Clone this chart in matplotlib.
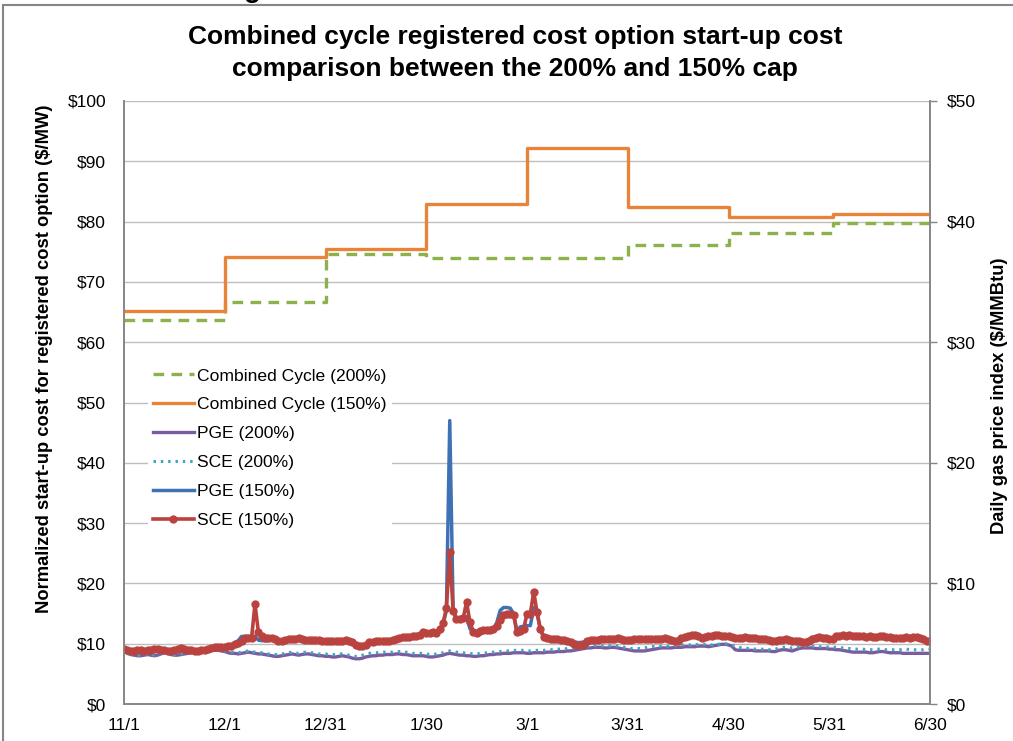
import matplotlib
matplotlib.use("Agg")
import matplotlib.pyplot as plt
import numpy as np
from matplotlib.patches import Rectangle

plt.rcParams['font.family'] = ['Liberation Sans', 'DejaVu Sans']

# x axis: day index from 11/1 to 6/30, labelled every 30 days
tick_days = [0, 30, 60, 90, 120, 150, 180, 210, 240]
tick_labels = ['11/1', '12/1', '12/31', '1/30', '3/1', '3/31', '4/30', '5/31', '6/30']

# combined cycle start-up cost, constant within each period ($/MW)
cc_start_days = [0, 30, 60, 90, 120, 150, 180, 211, 240]
cc_200 = [63.6, 66.7, 74.6, 74.0, 74.0, 76.1, 78.1, 79.8, 79.8]
cc_150 = [65.2, 74.2, 75.4, 83.0, 92.2, 82.5, 80.7, 81.3, 81.3]

# daily values, one per day from 11/1 to 6/30
pge_200 = [
    8.9, 8.4, 8.2, 8.1, 8.0, 8.0, 8.1, 8.2, 8.1, 8.0,
    8.1, 8.3, 8.5, 8.4, 8.2, 8.1, 8.1, 8.2, 8.3, 8.4,
    8.5, 8.6, 8.7, 8.8, 8.9, 9.0, 9.0, 8.9, 8.9, 8.8,
    8.7, 8.5, 8.4, 8.4, 8.3, 8.4, 8.5, 8.6, 8.5, 8.4,
    8.3, 8.3, 8.2, 8.1, 8.0, 7.9, 7.9, 8.0, 8.1, 8.2,
    8.3, 8.2, 8.1, 8.2, 8.3, 8.3, 8.2, 8.1, 8.0, 8.0,
    7.9, 7.9, 7.8, 7.8, 7.9, 8.0, 7.9, 7.8, 7.6, 7.5,
    7.5, 7.6, 7.8, 7.9, 8.0, 8.0, 8.1, 8.1, 8.2, 8.2,
    8.2, 8.3, 8.3, 8.2, 8.2, 8.1, 8.0, 8.0, 8.0, 8.0,
    7.9, 7.8, 7.8, 7.9, 8.0, 8.1, 8.3, 8.4, 8.3, 8.2,
    8.1, 8.1, 8.0, 8.0, 7.9, 7.9, 8.0, 8.0, 8.1, 8.2,
    8.2, 8.3, 8.3, 8.4, 8.4, 8.4, 8.5, 8.5, 8.5, 8.5,
    8.4, 8.4, 8.5, 8.5, 8.5, 8.5, 8.6, 8.6, 8.6, 8.7,
    8.7, 8.7, 8.8, 8.8, 8.9, 9.0, 9.1, 9.2, 9.3, 9.3,
    9.4, 9.4, 9.4, 9.3, 9.3, 9.4, 9.4, 9.3, 9.2, 9.1,
    9.0, 8.9, 8.8, 8.8, 8.8, 8.8, 8.9, 9.0, 9.1, 9.2,
    9.3, 9.3, 9.3, 9.3, 9.4, 9.4, 9.4, 9.5, 9.5, 9.5,
    9.5, 9.6, 9.6, 9.6, 9.5, 9.6, 9.7, 9.8, 9.9, 9.9,
    9.8, 9.6, 9.0, 8.9, 8.9, 8.9, 8.9, 8.9, 8.8, 8.8,
    8.8, 8.8, 8.8, 8.7, 8.7, 8.9, 9.0, 9.0, 8.9, 8.8,
    9.0, 9.2, 9.3, 9.3, 9.3, 9.3, 9.2, 9.2, 9.2, 9.2,
    9.1, 9.1, 9.0, 9.0, 8.9, 8.8, 8.7, 8.6, 8.6, 8.6,
    8.6, 8.6, 8.5, 8.5, 8.6, 8.7, 8.7, 8.6, 8.5, 8.5,
    8.5, 8.5, 8.4, 8.4, 8.4, 8.4, 8.4, 8.4, 8.4, 8.4, 8.4,
]

sce_200 = [
    8.9, 8.5, 8.3, 8.2, 8.1, 8.1, 8.2, 8.3, 8.2, 8.1,
    8.2, 8.4, 8.6, 8.5, 8.3, 8.2, 8.2, 8.3, 8.4, 8.5,
    8.6, 8.7, 8.8, 8.9, 9.0, 9.1, 9.1, 9.0, 9.0, 8.9,
    8.8, 8.7, 8.6, 8.6, 8.5, 8.6, 8.7, 8.8, 8.7, 8.6,
    8.5, 8.5, 8.4, 8.3, 8.2, 8.2, 8.2, 8.3, 8.4, 8.5,
    8.6, 8.5, 8.4, 8.5, 8.6, 8.6, 8.5, 8.4, 8.3, 8.3,
    8.3, 8.2, 8.2, 8.2, 8.3, 8.3, 8.2, 8.1, 8.0, 7.9,
    7.9, 8.1, 8.3, 8.4, 8.5, 8.5, 8.5, 8.6, 8.6, 8.6,
    8.6, 8.7, 8.7, 8.6, 8.6, 8.5, 8.4, 8.4, 8.4, 8.4,
    8.3, 8.2, 8.2, 8.3, 8.4, 8.5, 8.7, 8.8, 8.7, 8.6,
    8.5, 8.5, 8.4, 8.4, 8.3, 8.3, 8.4, 8.4, 8.5, 8.6,
    8.6, 8.7, 8.7, 8.8, 8.8, 8.8, 8.9, 8.9, 8.9, 8.9,
    8.8, 8.8, 8.9, 8.9, 8.9, 8.9, 9.0, 9.0, 9.0, 9.1,
    9.1, 9.1, 9.2, 9.2, 9.3, 9.4, 9.5, 9.6, 9.6, 9.6,
    9.7, 9.7, 9.7, 9.6, 9.6, 9.7, 9.7, 9.6, 9.5, 9.4,
    9.3, 9.2, 9.2, 9.2, 9.2, 9.3, 9.4, 9.5, 9.6, 9.6,
    9.6, 9.6, 9.6, 9.6, 9.7, 9.8, 9.8, 9.8, 9.8, 9.8,
    9.8, 9.9, 9.9, 9.9, 9.8, 9.8, 9.9, 9.9, 10.0, 10.0,
    9.9, 9.8, 9.6, 9.4, 9.3, 9.3, 9.2, 9.2, 9.1, 9.1,
    9.1, 9.0, 9.0, 9.0, 9.1, 9.3, 9.4, 9.4, 9.3, 9.3,
    9.4, 9.5, 9.6, 9.6, 9.6, 9.6, 9.5, 9.5, 9.5, 9.5,
    9.4, 9.4, 9.4, 9.4, 9.3, 9.2, 9.2, 9.1, 9.1, 9.1,
    9.1, 9.0, 9.0, 9.0, 9.1, 9.1, 9.1, 9.0, 9.0, 9.0,
    9.0, 9.0, 9.1, 9.1, 9.0, 9.0, 9.0, 9.0, 9.0, 9.1, 9.1,
]

pge_150 = [
    9.0, 8.7, 8.6, 8.6, 8.7, 8.7, 8.6, 8.7, 8.8, 8.9,
    8.9, 8.8, 8.7, 8.6, 8.6, 8.7, 9.0, 9.1, 9.0, 8.8,
    8.7, 8.6, 8.6, 8.7, 8.8, 9.0, 9.1, 9.2, 9.3, 9.4,
    9.5, 9.6, 9.8, 10.1, 10.5, 11.2, 11.2, 11.2, 11.2, 11.2,
    10.6, 10.5, 10.5, 10.5, 10.6, 10.5, 10.3, 10.2, 10.4, 10.5,
    10.6, 10.6, 10.7, 10.6, 10.5, 10.5, 10.5, 10.5, 10.5, 10.4,
    10.4, 10.3, 10.3, 10.3, 10.4, 10.4, 10.5, 10.4, 10.1, 9.7,
    9.5, 9.5, 9.7, 10.1, 10.2, 10.3, 10.4, 10.3, 10.3, 10.4,
    10.5, 10.7, 10.9, 11.0, 11.0, 11.0, 11.1, 11.2, 11.4, 11.8,
    11.7, 11.7, 11.8, 11.8, 12.3, 13.2, 15.5, 47.0, 15.8, 14.0,
    14.0, 14.1, 14.5, 12.5, 11.8, 11.7, 12.0, 12.2, 12.2, 12.2,
    12.4, 13.5, 15.5, 16.0, 16.0, 15.9, 15.0, 12.0, 12.8, 12.9,
    13.0, 13.0, 16.0, 15.0, 12.3, 11.0, 10.8, 10.7, 10.7, 10.6,
    10.6, 10.6, 10.5, 10.4, 10.3, 10.2, 10.2, 10.3, 10.6, 10.7,
    10.7, 10.7, 10.8, 10.8, 10.8, 10.9, 10.9, 11.0, 10.9, 10.8,
    10.7, 10.7, 10.8, 10.9, 10.9, 10.9, 10.9, 10.9, 10.9, 11.0,
    11.0, 11.1, 11.0, 10.8, 10.6, 10.7, 11.1, 11.3, 11.4, 11.6,
    11.6, 11.4, 11.2, 11.3, 11.4, 11.5, 11.6, 11.6, 11.5, 11.4,
    11.4, 11.3, 11.2, 11.1, 11.2, 11.3, 11.2, 11.1, 11.1, 11.0,
    11.0, 10.9, 10.8, 10.7, 10.7, 10.8, 10.8, 10.9, 10.8, 10.7,
    10.7, 10.6, 10.5, 10.5, 10.7, 11.0, 11.2, 11.3, 11.2, 11.1,
    11.0, 11.0, 11.3, 11.4, 11.5, 11.4, 11.5, 11.4, 11.4, 11.3,
    11.3, 11.2, 11.3, 11.3, 11.3, 11.4, 11.4, 11.3, 11.2, 11.1,
    11.0, 11.1, 11.1, 11.2, 11.1, 11.2, 11.2, 11.1, 10.9, 10.7, 10.6,
]

sce_150 = [
    9.2, 8.9, 8.8, 8.8, 8.9, 8.9, 8.8, 8.9, 9.0, 9.1,
    9.1, 9.0, 8.9, 8.8, 8.8, 8.9, 9.2, 9.3, 9.2, 9.0,
    8.9, 8.8, 8.8, 8.9, 9.0, 9.2, 9.3, 9.4, 9.4, 9.5,
    9.5, 9.6, 9.7, 9.9, 10.1, 10.4, 10.9, 10.9, 11.0, 16.6,
    12.0, 11.2, 11.0, 10.9, 10.9, 10.7, 10.5, 10.4, 10.6, 10.7,
    10.8, 10.8, 10.9, 10.7, 10.6, 10.6, 10.6, 10.6, 10.6, 10.5,
    10.5, 10.4, 10.4, 10.4, 10.5, 10.5, 10.6, 10.5, 10.2, 9.8,
    9.6, 9.6, 9.8, 10.2, 10.3, 10.4, 10.5, 10.4, 10.4, 10.5,
    10.6, 10.8, 11.0, 11.1, 11.1, 11.1, 11.2, 11.3, 11.5, 11.9,
    11.8, 11.8, 11.9, 11.8, 12.5, 13.4, 15.9, 25.2, 15.4, 14.1,
    14.1, 14.2, 16.9, 13.6, 12.0, 11.8, 12.1, 12.3, 12.3, 12.3,
    12.4, 12.9, 13.9, 14.8, 14.9, 14.9, 14.8, 11.9, 12.1, 12.4,
    15.0, 15.0, 18.6, 15.2, 12.4, 11.1, 10.9, 10.8, 10.8, 10.7,
    10.6, 10.6, 10.5, 10.3, 10.0, 9.8, 9.8, 9.9, 10.5, 10.6,
    10.6, 10.6, 10.7, 10.7, 10.7, 10.8, 10.8, 10.9, 10.7, 10.6,
    10.6, 10.6, 10.7, 10.8, 10.8, 10.8, 10.8, 10.7, 10.7, 10.8,
    10.8, 10.9, 10.8, 10.6, 10.4, 10.5, 10.9, 11.1, 11.2, 11.4,
    11.5, 11.2, 11.0, 11.1, 11.2, 11.3, 11.4, 11.4, 11.3, 11.2,
    11.2, 11.1, 11.0, 10.9, 11.0, 11.1, 11.0, 10.9, 10.9, 10.8,
    10.8, 10.7, 10.6, 10.5, 10.5, 10.6, 10.6, 10.7, 10.6, 10.5,
    10.5, 10.4, 10.3, 10.3, 10.5, 10.8, 11.0, 11.1, 11.0, 10.9,
    10.8, 10.8, 11.2, 11.3, 11.4, 11.3, 11.4, 11.3, 11.3, 11.2,
    11.2, 11.1, 11.2, 11.1, 11.1, 11.2, 11.2, 11.1, 11.1, 11.0,
    10.9, 11.0, 11.0, 11.1, 11.0, 11.1, 11.1, 11.0, 10.7, 10.5, 10.4,
]

days = np.arange(len(sce_150))

fig = plt.figure(figsize=(10.13, 7.41), dpi=100)
ax = fig.add_axes([124 / 1013, 1 - 704 / 741, 806 / 1013, 603 / 741])
ax2 = ax.twinx()

ax.plot(cc_start_days, cc_200, drawstyle='steps-post', color='#8DB14B', lw=2.4,
        ls=(0, (3.2, 2.2)), label='Combined Cycle (200%)', zorder=3)
ax.plot(cc_start_days, cc_150, drawstyle='steps-post', color='#E8843A', lw=2.4,
        label='Combined Cycle (150%)', zorder=3)
ax.plot(days, pge_200, color='#7B5C9F', lw=2.4, label='PGE (200%)', zorder=3)
ax.plot(days, sce_200, color='#3FA6C2', lw=2.2, ls=(0, (0.8, 1.6)),
        label='SCE (200%)', zorder=3)
ax.plot(days, pge_150, color='#3F72B5', lw=2.5, label='PGE (150%)', zorder=3)
ax.plot(days, sce_150, color='#BA4340', lw=2.6, marker='o', markersize=5,
        label='SCE (150%)', zorder=3)

ax.set_xlim(0, 240)
ax.set_ylim(0, 100)
ax.set_yticks(np.arange(0, 101, 10))
ax.set_yticklabels(['$%d' % v for v in range(0, 101, 10)])
ax.set_xticks(tick_days)
ax.set_xticklabels(tick_labels)
ax.yaxis.grid(True, color='#BEBEBE', lw=1)
ax.set_axisbelow(True)
ax.tick_params(axis='y', length=0, pad=13, labelsize=12.5)
ax.tick_params(axis='x', length=0, pad=10, labelsize=12.5)

ax2.set_ylim(0, 50)
ax2.set_yticks(np.arange(0, 51, 10))
ax2.set_yticklabels(['$%d' % v for v in range(0, 51, 10)])
ax2.tick_params(axis='y', length=5, width=1, color='#868686', pad=7, labelsize=12.5)

for a in (ax, ax2):
    a.spines['top'].set_visible(False)
    for s in ('left', 'bottom', 'right'):
        a.spines[s].set_color('#868686')
        a.spines[s].set_linewidth(1.2)

ax.set_ylabel('Normalized start-up cost for registered cost option ($/MW)',
              fontsize=13.2, fontweight='bold')
ax.yaxis.set_label_coords(-0.088, 0.573)
ax2.set_ylabel('Daily gas price index ($/MMBtu)', fontsize=13.2, fontweight='bold')
ax2.yaxis.set_label_coords(1.0757, 0.511)

leg = ax.legend(loc='upper left', bbox_to_anchor=(0.019, 0.58), fontsize=12.6,
                frameon=True, facecolor='white', edgecolor='none', framealpha=1,
                handlelength=2.3, handletextpad=0.2, labelspacing=0.78,
                borderpad=0.3, fancybox=False)
leg.set_zorder(5)

fig.text(515 / 1013, 1 - 53 / 741,
         'Combined cycle registered cost option start-up cost\n'
         'comparison between the 200% and 150% cap',
         ha='center', va='center', fontsize=19, fontweight='bold', linespacing=1.38)

# page fragments visible at the top edge of the crop
fig.text(252 / 1013, 1 + 3 / 741, 'g', ha='center', va='baseline', fontsize=20,
         fontweight='bold')
fig.patches.append(Rectangle((3 / 1013, -0.1), 1.2, 1 - 5 / 741 + 0.1,
                             transform=fig.transFigure, fill=False,
                             edgecolor='#868686', lw=1.5))

fig.savefig('out.png', dpi=100)
